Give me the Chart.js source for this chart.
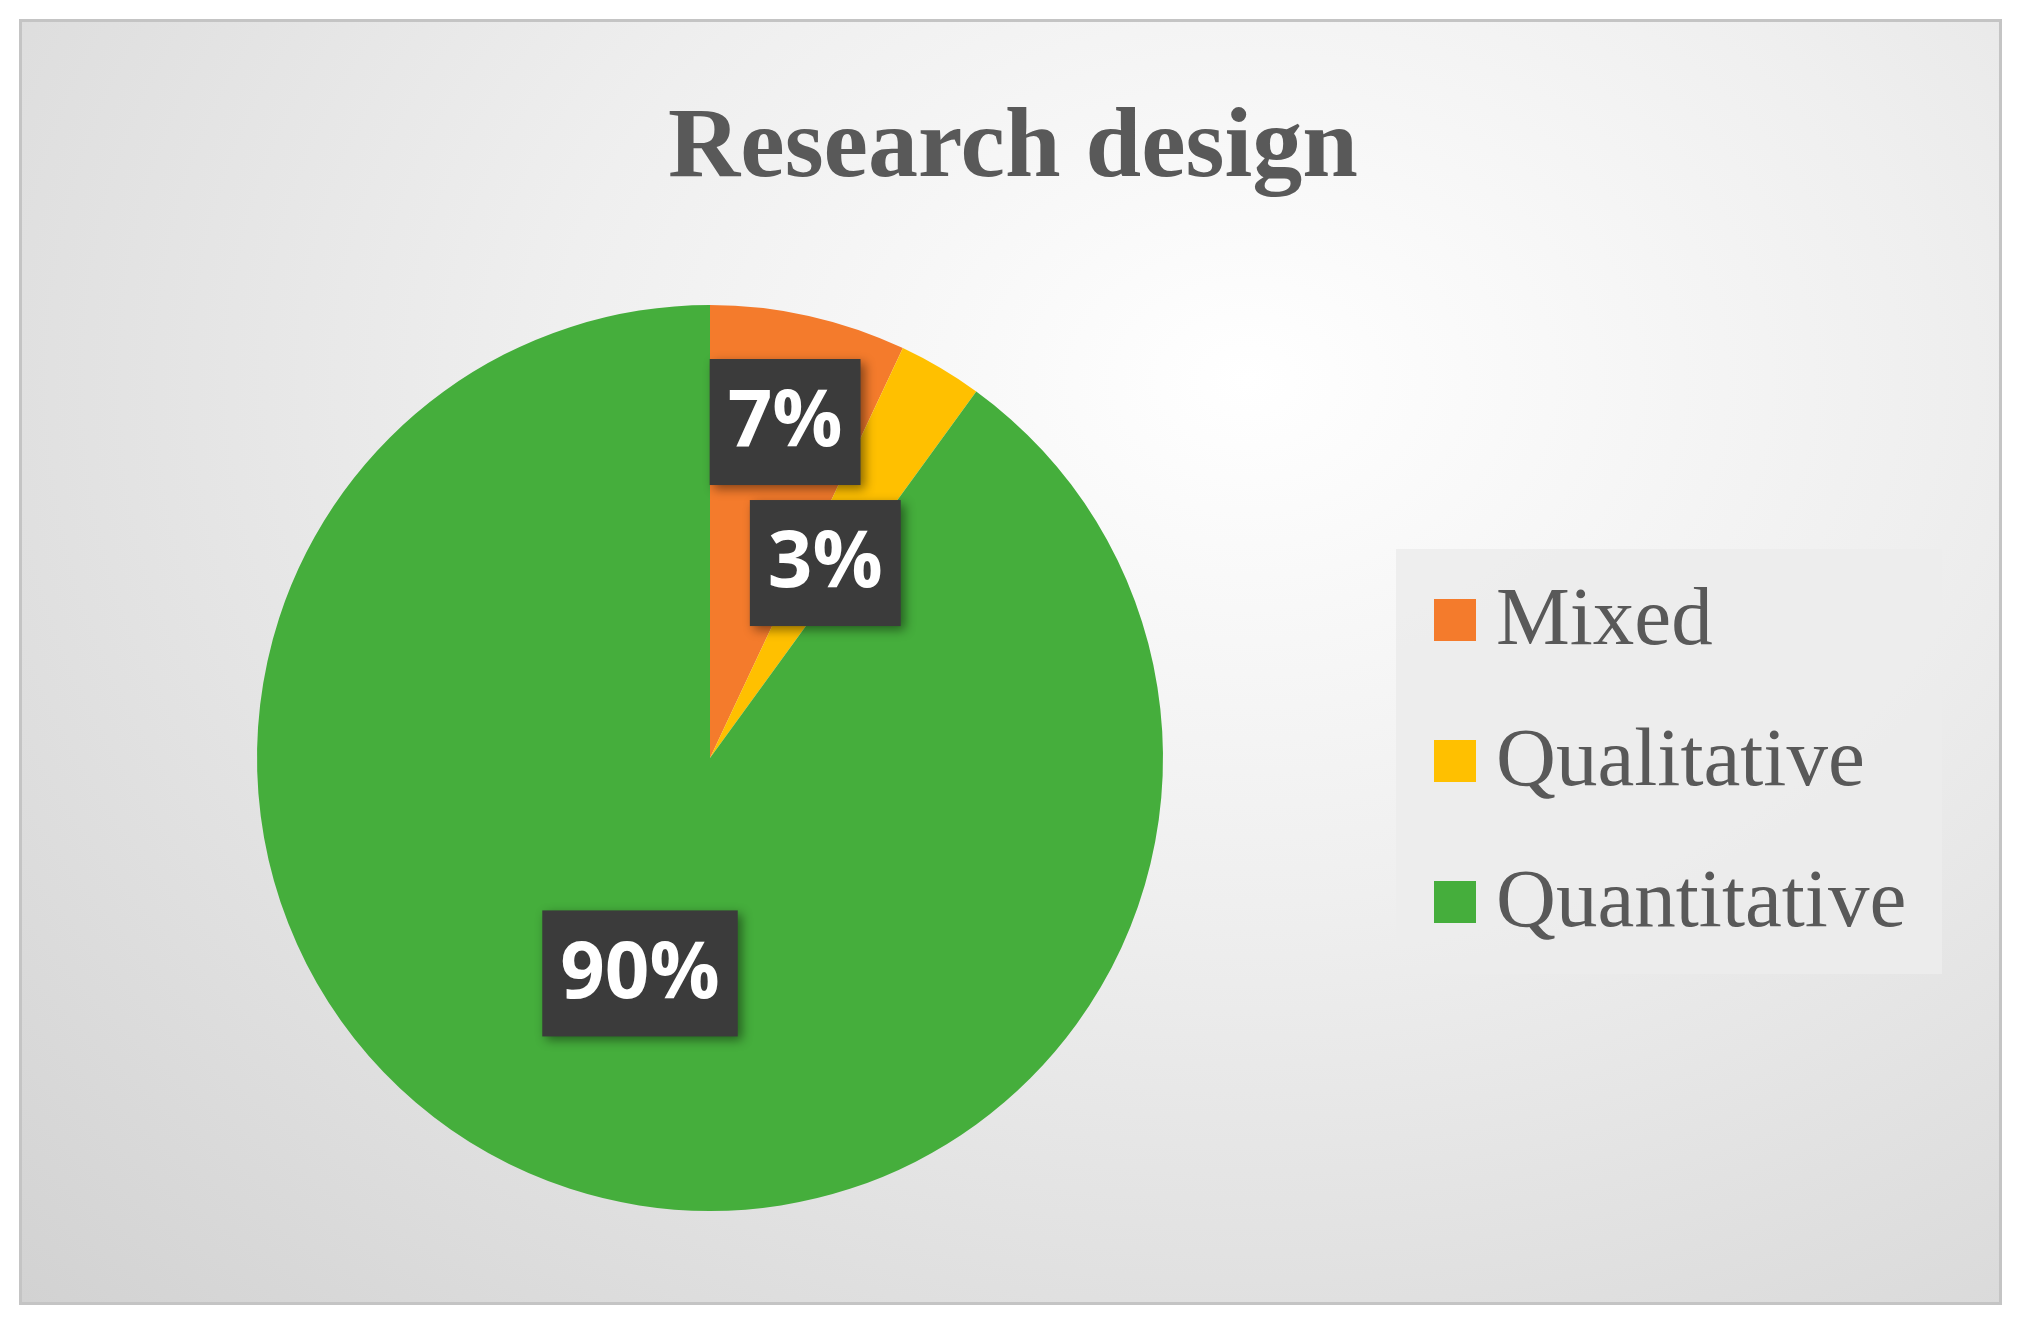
<!DOCTYPE html>
<html>
<head>
<meta charset="utf-8">
<script src="https://cdn.jsdelivr.net/npm/chart.js@4/dist/chart.umd.min.js"></script>
<style>
  html, body { margin: 0; padding: 0; background: #fff; }
  #box {
    position: absolute; left: 19px; top: 19px; width: 1977px; height: 1280px;
    border: 3px solid #c4c4c4;
    background: radial-gradient(ellipse at 62% 28%, #ffffff 0%, #efefef 40%, #d2d2d2 100%);
  }
</style>
</head>
<body>
<div id="box"><canvas id="c"></canvas></div>
<script>
const categories = ['Mixed', 'Qualitative', 'Quantitative'];
const shares = [7, 3, 90];
const colors = ['#F47B2C', '#FFC000', '#45AE3C'];

const overlay = {
  id: 'overlay',
  afterDatasetsDraw(chart) {
    const ctx = chart.ctx;
    const meta = chart.getDatasetMeta(0);
    const radii = [0.76, 0.5, 0.5];
    ctx.save();
    ctx.font = 'bold 78px "Open Sans", sans-serif';
    ctx.textAlign = 'center';
    ctx.textBaseline = 'middle';
    meta.data.forEach((arc, i) => {
      const mid = (arc.startAngle + arc.endAngle) / 2;
      const r = arc.outerRadius * radii[i];
      const x = arc.x + Math.cos(mid) * r;
      const y = arc.y + Math.sin(mid) * r;
      const txt = shares[i] + '%';
      const w = ctx.measureText(txt).width + 36;
      const h = 126;
      ctx.shadowColor = 'rgba(0,0,0,0.45)';
      ctx.shadowBlur = 10; ctx.shadowOffsetX = 4; ctx.shadowOffsetY = 4;
      ctx.fillStyle = '#3b3b3b';
      ctx.fillRect(x - w / 2, y - h / 2, w, h);
      ctx.shadowColor = 'transparent';
      ctx.fillStyle = '#ffffff';
      ctx.fillText(txt, x, y + 2);
    });
    // title
    ctx.fillStyle = '#595959';
    ctx.font = 'bold 100px "Liberation Serif", serif';
    ctx.fillText('Research design', 991, 128);
    // legend
    ctx.fillStyle = 'rgba(236,236,236,0.9)';
    ctx.fillRect(1374, 527, 546, 425);
    ctx.textAlign = 'left';
    ctx.font = '83px "Liberation Serif", serif';
    categories.forEach((c, i) => {
      const y = 598 + i * 141;
      ctx.fillStyle = colors[i];
      ctx.fillRect(1412, y - 21, 42, 42);
      ctx.fillStyle = '#595959';
      ctx.fillText(c, 1474, y + 2);
    });
    ctx.restore();
  }
};

new Chart(document.getElementById('c'), {
  type: 'pie',
  data: {
    labels: categories,
    datasets: [{ data: shares, backgroundColor: colors, borderWidth: 0 }]
  },
  options: {
    responsive: true,
    maintainAspectRatio: false,
    animation: false,
    layout: { padding: { left: 235, right: 836, top: 283, bottom: 91 } },
    plugins: { legend: { display: false }, title: { display: false }, tooltip: { enabled: false } }
  },
  plugins: [overlay]
});
</script>
</body>
</html>
